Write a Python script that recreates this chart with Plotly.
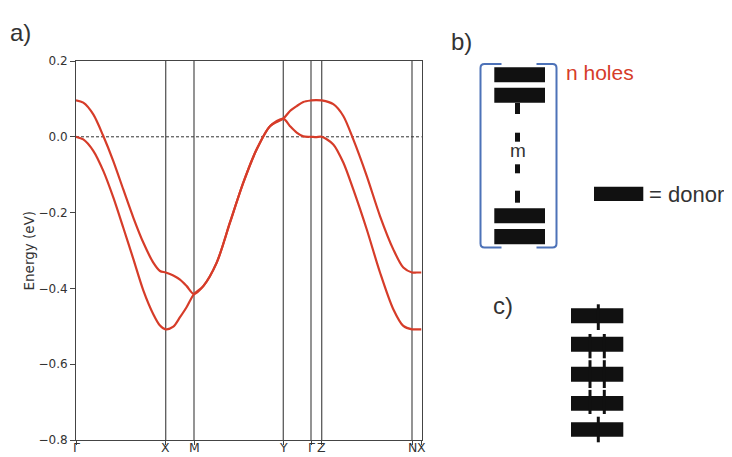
import plotly.graph_objects as go

# ---- data ----
kpt_labels = ["Γ", "X", "M", "Y", "Γ", "Z", "N", "X"]
kpt_pos = [0, 89.7, 118, 207.3, 235, 245.7, 336, 345.5]

band_k = [0, 7.3, 17.3, 27.3, 37.3, 47.3, 57.3, 67.3, 77.3, 84, 89.7,
          97.3, 104, 110.7, 118,
          127.3, 140.7, 154, 167.3, 180.7, 194, 207.3,
          214, 220.7, 227.3, 235, 240, 245.7,
          257.3, 267.3, 277.3, 290.7, 304, 317.3, 327.3, 336, 340.5, 345.5]

band_upper = [0.096, 0.090, 0.059, 0.002, -0.064, -0.139, -0.213, -0.279, -0.332, -0.354, -0.358,
              -0.366, -0.377, -0.394, -0.415,
              -0.394, -0.332, -0.226, -0.121, -0.033, 0.028, 0.048,
              0.068, 0.081, 0.092, 0.096, 0.097, 0.096,
              0.086, 0.055, -0.007, -0.103, -0.209, -0.297, -0.345, -0.358, -0.358, -0.358]

band_lower = [0.0, -0.007, -0.037, -0.090, -0.160, -0.240, -0.322, -0.405, -0.468, -0.498, -0.508,
              -0.501, -0.476, -0.449, -0.415,
              -0.394, -0.332, -0.226, -0.121, -0.033, 0.028, 0.048,
              0.028, 0.011, 0.001, 0.0, -0.001, 0.0,
              -0.020, -0.068, -0.139, -0.244, -0.358, -0.455, -0.499, -0.508, -0.508, -0.508]

ytick_vals = [0.2, 0.0, -0.2, -0.4, -0.6, -0.8]
ytick_text = ["0.2", "0.0", "−0.2", "−0.4", "−0.6", "−0.8"]

W, H = 732, 457
OFF = 8  # page body margin shifts the figure
RED = "#d63c29"
BLUE = "#4d72b8"
INK = "#111111"
TXT = "#333333"


def px(x):
    return (x - OFF) / W


def py(y):
    return 1 - (y - OFF) / H


fig = go.Figure()
for band in (band_upper, band_lower):
    fig.add_trace(go.Scatter(x=band_k, y=band, mode="lines",
                             line=dict(color=RED, width=2.2, shape="spline", smoothing=0.8),
                             showlegend=False, hoverinfo="skip"))

shapes = []
for k in kpt_pos[1:-1]:
    shapes.append(dict(type="line", xref="x", yref="y domain", x0=k, x1=k, y0=0, y1=1,
                       line=dict(color="#5a5a5a", width=1.3), layer="below"))
shapes.append(dict(type="line", xref="x domain", yref="y", x0=0, x1=1, y0=0, y1=0,
                   line=dict(color="#333333", width=1, dash="3px,2px"), layer="below"))


def rect(x0, y0, x1, y1, color=INK):
    shapes.append(dict(type="rect", xref="paper", yref="paper",
                       x0=px(x0), x1=px(x1), y0=py(y1), y1=py(y0),
                       fillcolor=color, line=dict(width=0)))


def bracket(xe, xs, top, bot, r=4):
    d = 1 if xs > xe else -1
    path = (f"M {px(xs)},{py(top)} L {px(xe + d*r)},{py(top)} "
            f"Q {px(xe)},{py(top)} {px(xe)},{py(top + r)} "
            f"L {px(xe)},{py(bot - r)} "
            f"Q {px(xe)},{py(bot)} {px(xe + d*r)},{py(bot)} "
            f"L {px(xs)},{py(bot)}")
    shapes.append(dict(type="path", xref="paper", yref="paper", path=path,
                       line=dict(color=BLUE, width=2)))


# ---- panel b ----
bracket(480.5, 501.5, 64, 247.5)
bracket(556.5, 536.5, 64, 247.5)
for (t, b) in [(67.3, 82.3), (87.7, 102.7), (208.3, 223.3), (229, 244.3)]:
    rect(494.3, t, 545, b)
for (t, b) in [(103, 114), (132.7, 141.7), (164.3, 173.3), (190.7, 202.7)]:
    rect(515, t, 520, b)
rect(594, 186.7, 643.3, 201)

# ---- panel c ----
bars_c = [(308.3, 323.3), (336.7, 351.7), (366.7, 381.7), (396, 410.7), (422.3, 436.7)]
for (t, b) in bars_c:
    rect(571, t, 623.3, b)
rect(596.8, 304.3, 599.8, 330)
rect(596.8, 416.7, 599.8, 442.3)
for xc in (590, 604.3):
    rect(xc - 1.5, 334, xc + 1.5, 358.3)
    rect(xc - 1.5, 360.2, xc + 1.5, 388)
    rect(xc - 1.5, 389.9, xc + 1.5, 414)

annotations = [
    dict(text="a)", x=px(8), y=py(33), xanchor="left", yanchor="middle",
         font=dict(size=24, color=TXT, family="Liberation Sans")),
    dict(text="b)", x=px(449), y=py(41), xanchor="left", yanchor="middle",
         font=dict(size=24, color=TXT, family="Liberation Sans")),
    dict(text="c)", x=px(491), y=py(305), xanchor="left", yanchor="middle",
         font=dict(size=24, color=TXT, family="Liberation Sans")),
    dict(text="n holes", x=px(564), y=py(73), xanchor="left", yanchor="middle",
         font=dict(size=21, color=RED, family="Liberation Sans")),
    dict(text="m", x=px(517.5), y=py(151), xanchor="center", yanchor="middle",
         font=dict(size=19, color=TXT, family="Liberation Sans")),
    dict(text="= donor", x=px(647), y=py(194), xanchor="left", yanchor="middle",
         font=dict(size=22, color=TXT, family="Liberation Sans")),
    dict(text="Energy (eV)", x=px(28), y=py(250.5), xanchor="center", yanchor="middle",
         textangle=-90, font=dict(size=13.5, color=TXT, family="DejaVu Sans")),
]
for a in annotations:
    a.update(xref="paper", yref="paper", showarrow=False)

# k-point labels just below the axis
for lab, k in zip(kpt_labels, kpt_pos):
    annotations.append(dict(text=lab, x=k, xref="x", y=py(456.5), yref="paper",
                            xanchor="center", yanchor="bottom", showarrow=False,
                            font=dict(size=12.5, color=TXT, family="DejaVu Sans")))

fig.update_layout(
    template="none",
    width=W, height=H,
    margin=dict(l=0, r=0, t=0, b=0, pad=0),
    paper_bgcolor="white", plot_bgcolor="white",
    shapes=shapes, annotations=annotations,
    xaxis=dict(domain=[px(76), px(421.5)], range=[0, 345.5], automargin=False,
               tickvals=kpt_pos, showticklabels=False, ticks="outside", ticklen=4,
               tickcolor="#444", showgrid=False, zeroline=False,
               showline=True, linecolor="#444", linewidth=1, mirror=True),
    yaxis=dict(domain=[py(440), py(61)], range=[-0.8, 0.2], automargin=False,
               tickvals=ytick_vals, ticktext=ytick_text, ticks="outside", ticklen=5,
               tickcolor="#444", showgrid=False, zeroline=False,
               showline=True, linecolor="#444", linewidth=1, mirror=True,
               tickfont=dict(size=12, color=TXT, family="DejaVu Sans")),
)

fig.write_html("out.html")
